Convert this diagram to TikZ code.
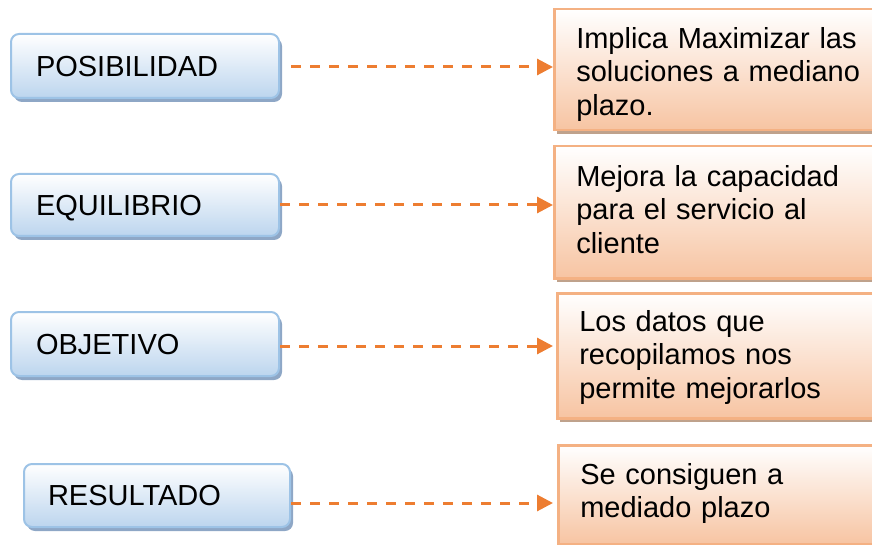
\documentclass[tikz,border=0pt]{standalone}
\usepackage{fontspec}
\setmainfont{Liberation Sans}
\usetikzlibrary{arrows.meta,shadows}
\definecolor{bborder}{HTML}{9DC3E6}
\definecolor{bbottom}{HTML}{BCD5EE}
\definecolor{bshadow}{HTML}{8EA7C6}
\definecolor{oborder}{HTML}{F4B183}
\definecolor{obottom}{HTML}{F7C4A2}
\definecolor{oshadow}{HTML}{BFA28C}
\definecolor{arrc}{HTML}{ED7D31}
\tikzset{
  bluebox/.style={draw=bborder, line width=2pt, rounded corners=8pt,
    top color=white, bottom color=bbottom,
    drop shadow={shadow xshift=3pt, shadow yshift=-4pt, fill=bshadow, opacity=1},
    anchor=north west, inner xsep=25pt, inner ysep=0pt, text width=218pt,
    align=left, text height=20.8pt, text depth=0pt,
    font=\fontsize{29}{33.5}\selectfont},
  orangebox/.style={draw=oborder, line width=2.5pt,
    top color=white, bottom color=obottom,
    drop shadow={shadow xshift=3pt, shadow yshift=-4pt, fill=oshadow, opacity=1},
    anchor=north west, inner xsep=22pt, inner ysep=0pt, text width=320pt,
    align=left, text height=0pt, font=\fontsize{29}{33.5}\selectfont},
  arr/.style={draw=arrc, line width=3pt, dash pattern=on 10pt off 9pt,
    -{Triangle[length=16pt,width=16pt]}}
}
\begin{document}
\begin{tikzpicture}[x=1pt,y=-1pt]
\useasboundingbox (0,0) rectangle (872,545);
\clip (0,0) rectangle (872,545);
% blue boxes
\node[bluebox, minimum width=268pt, minimum height=64pt] (b1) at (10,33) {POSIBILIDAD};
\node[bluebox, minimum width=268pt, minimum height=62pt] (b2) at (10,173) {EQUILIBRIO};
\node[bluebox, minimum width=268pt, minimum height=64pt] (b3) at (10,311) {OBJETIVO};
\node[bluebox, minimum width=266pt, minimum height=63pt, inner xsep=24pt] (b4) at (23,463) {RESULTADO};
% orange boxes
\node[orangebox, minimum height=121pt, text depth=43pt] (o1) at (553,8) {Implica Maximizar las\\soluciones a mediano\\plazo.};
\node[orangebox, minimum height=132pt, text depth=52pt] (o2) at (553,145) {Mejora la capacidad\\para el servicio al\\cliente};
\node[orangebox, minimum height=125pt, text depth=49pt] (o3) at (556,292) {Los datos que\\recopilamos nos\\permite mejorarlos};
\node[orangebox, minimum height=99pt, text depth=21pt] (o4) at (557,444) {Se consiguen a\\mediado plazo};
% arrows
\draw[arr] ([xshift=11pt,yshift=-1pt]b1.east) -- ([yshift=-1pt]b1.east -| o1.west);
\draw[arr] (b2.east) -- (b2.east -| o2.west);
\draw[arr] ([yshift=-2pt]b3.east) -- ([xshift=-3pt,yshift=-2pt]b3.east -| o3.west);
\draw[arr] ([yshift=-7.5pt]b4.east) -- ([xshift=-4pt,yshift=-7.5pt]b4.east -| o4.west);
\end{tikzpicture}
\end{document}
